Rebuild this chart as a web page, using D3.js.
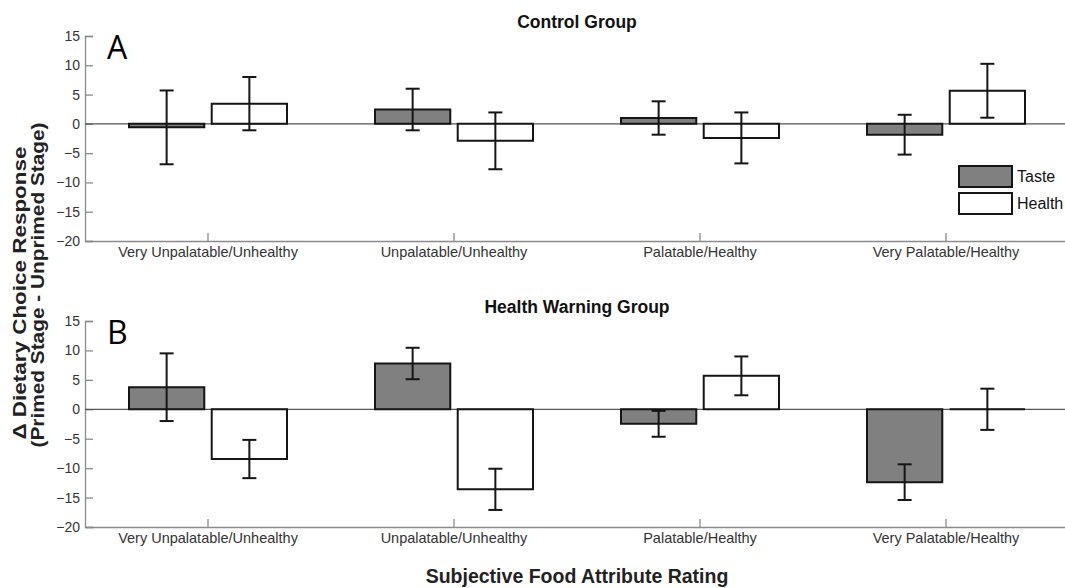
<!DOCTYPE html>
<html>
<head>
<meta charset="utf-8">
<script src="https://cdn.jsdelivr.net/npm/d3@7"></script>
<style>
  html, body { margin: 0; padding: 0; background: #fff; }
  svg { display: block; font-family: "Liberation Sans", Arial, Helvetica, sans-serif; }
</style>
</head>
<body>
<svg id="chart" width="1065" height="588"></svg>
<script>
// dados (média e meio-intervalo da barra de erro)
const categories = ["Very Unpalatable/Unhealthy", "Unpalatable/Unhealthy", "Palatable/Healthy", "Very Palatable/Healthy"];
const series = ["Taste", "Health"];
const yTicks = [15, 10, 5, 0, -5, -10, -15, -20];

const controlTaste = [-0.6, 2.45, 1.0, -1.85];
const controlTasteErr = [6.3, 3.55, 2.85, 3.4];
const controlHealth = [3.45, -2.9, -2.4, 5.65];
const controlHealthErr = [4.55, 4.85, 4.35, 4.6];

const warningTaste = [3.75, 7.78, -2.47, -12.38];
const warningTasteErr = [5.75, 2.67, 2.2, 3.03];
const warningHealth = [-8.45, -13.6, 5.68, 0];
const warningHealthErr = [3.25, 3.5, 3.3, 3.5];

const FILLS = { Taste: "#808080", Health: "#ffffff" };

const svg = d3.select("#chart");

const x = d3.scaleBand().domain(categories).range([85, 1069]).padding(0);
const xSub = d3.scaleBand().domain(series).range([44, 202]).paddingInner(0.09);

function panel(top, bottom, title, letter, taste, tasteErr, health, healthErr) {
  const y = d3.scaleLinear().domain([-20, 15]).range([bottom, top]);
  const g = svg.append("g");

  const rows = [];
  categories.forEach((c, i) => {
    rows.push({ cat: c, s: "Taste", v: taste[i], e: tasteErr[i] });
    rows.push({ cat: c, s: "Health", v: health[i], e: healthErr[i] });
  });

  // eixo y: ticks para dentro, estilo matlab
  g.append("g")
    .attr("transform", `translate(${x.range()[0]},0)`)
    .call(d3.axisLeft(y).tickValues(yTicks).tickSize(-8).tickPadding(5))
    .call((a) => a.select(".domain").attr("stroke", "#8a8a8a").attr("stroke-width", 1.3))
    .call((a) => a.selectAll(".tick line").attr("stroke", "#8a8a8a").attr("stroke-width", 1.3))
    .call((a) => a.selectAll("text").attr("fill", "#333").attr("font-size", 14).attr("font-family", null));

  g.append("g")
    .attr("transform", `translate(0,${bottom})`)
    .call(d3.axisBottom(x).tickSize(-8).tickPadding(6).tickSizeOuter(0))
    .call((a) => a.select(".domain").attr("stroke", "#8a8a8a").attr("stroke-width", 1.3))
    .call((a) => a.selectAll(".tick line").attr("stroke", "#8a8a8a").attr("stroke-width", 1.3))
    .call((a) => a.selectAll("text").attr("fill", "#333").attr("font-size", 14.5).attr("font-family", null));

  // linha do zero
  g.append("line")
    .attr("x1", x.range()[0])
    .attr("x2", x.range()[1])
    .attr("y1", y(0))
    .attr("y2", y(0))
    .attr("stroke", "#555")
    .attr("stroke-width", 1.3);

  // barras como path para que a barra de valor 0 ainda apareça como traço
  g.selectAll("path.bar")
    .data(rows)
    .join("path")
    .attr("class", "bar")
    .attr("d", (d) => {
      const x0 = x(d.cat) + xSub(d.s);
      const x1 = x0 + xSub.bandwidth();
      return `M${x0},${y(0)}H${x1}V${y(d.v)}H${x0}Z`;
    })
    .attr("fill", (d) => FILLS[d.s])
    .attr("stroke", "#151515")
    .attr("stroke-width", 2);

  const cap = 7;
  const eb = g.selectAll("g.err").data(rows).join("g").attr("class", "err")
    .attr("stroke", "#151515").attr("stroke-width", 2);
  eb.append("line")
    .attr("x1", (d) => x(d.cat) + xSub(d.s) + xSub.bandwidth() / 2)
    .attr("x2", (d) => x(d.cat) + xSub(d.s) + xSub.bandwidth() / 2)
    .attr("y1", (d) => y(d.v + d.e))
    .attr("y2", (d) => y(d.v - d.e));
  for (const sign of [1, -1]) {
    eb.append("line")
      .attr("x1", (d) => x(d.cat) + xSub(d.s) + xSub.bandwidth() / 2 - cap)
      .attr("x2", (d) => x(d.cat) + xSub(d.s) + xSub.bandwidth() / 2 + cap)
      .attr("y1", (d) => y(d.v + sign * d.e))
      .attr("y2", (d) => y(d.v + sign * d.e));
  }

  g.append("text")
    .attr("x", 577)
    .attr("y", top - 8)
    .attr("text-anchor", "middle")
    .attr("font-size", 17.5)
    .attr("font-weight", 700)
    .attr("fill", "#111")
    .text(title);

  g.append("text")
    .attr("x", 107)
    .attr("y", top + 23)
    .attr("font-size", 32)
    .attr("font-family", "'Open Sans', sans-serif")
    .attr("fill", "#000")
    .text(letter);
}

panel(36, 241, "Control Group", "A", controlTaste, controlTasteErr, controlHealth, controlHealthErr);
panel(321, 527, "Health Warning Group", "B", warningTaste, warningTasteErr, warningHealth, warningHealthErr);

// legenda do painel A (no original o texto encosta na borda direita)
const leg = svg.append("g").attr("transform", "translate(959,166)");
series.forEach((s, i) => {
  leg.append("rect")
    .attr("x", 0)
    .attr("y", i * 27)
    .attr("width", 53)
    .attr("height", 21)
    .attr("fill", FILLS[s])
    .attr("stroke", "#151515")
    .attr("stroke-width", 2);
  leg.append("text")
    .attr("x", 58)
    .attr("y", i * 27 + 16)
    .attr("font-size", 16)
    .attr("fill", "#111")
    .text(s);
});

// títulos dos eixos (o original está esticado na vertical, daí o textLength)
const yTitle = svg.append("g")
  .attr("font-size", 17.5)
  .attr("font-weight", 700)
  .attr("fill", "#222")
  .attr("text-anchor", "middle");
yTitle.append("text")
  .attr("transform", "translate(26,293) rotate(-90)")
  .attr("textLength", 293)
  .attr("lengthAdjust", "spacingAndGlyphs")
  .text("\u0394 Dietary Choice Response");
yTitle.append("text")
  .attr("transform", "translate(44,285) rotate(-90)")
  .attr("textLength", 325)
  .attr("lengthAdjust", "spacingAndGlyphs")
  .text("(Primed Stage - Unprimed Stage)");

svg.append("text")
  .attr("x", 577)
  .attr("y", 583)
  .attr("text-anchor", "middle")
  .attr("font-size", 19.5)
  .attr("font-weight", 700)
  .attr("fill", "#222")
  .text("Subjective Food Attribute Rating");
</script>
</body>
</html>
